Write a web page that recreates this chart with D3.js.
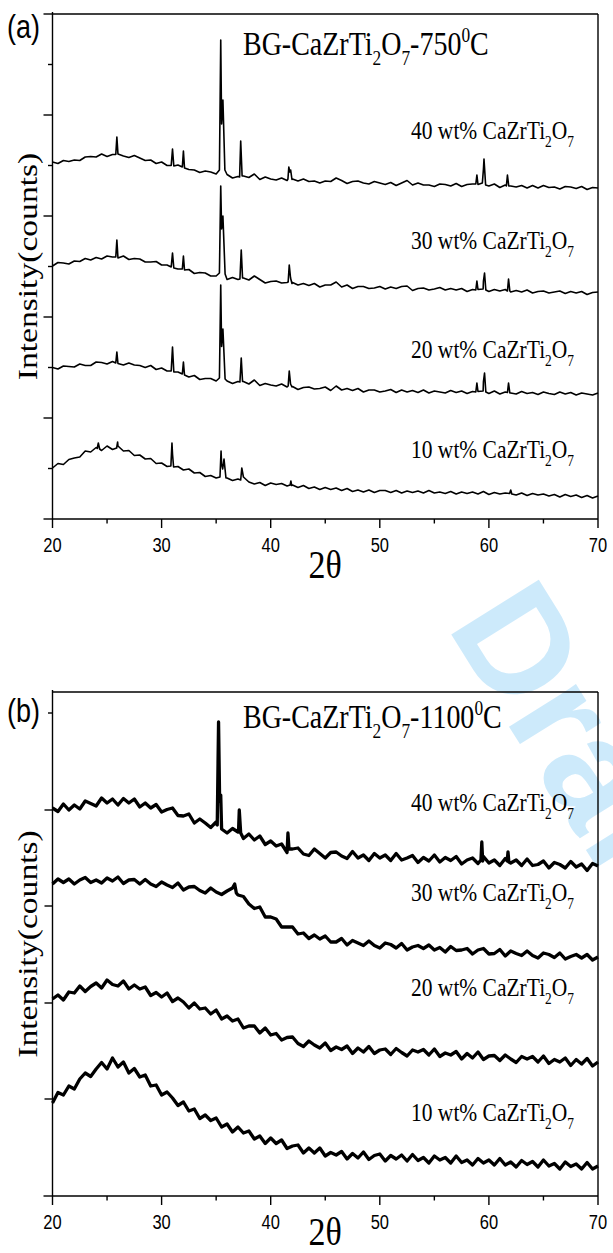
<!DOCTYPE html>
<html>
<head>
<meta charset="utf-8">
<script src="https://cdn.jsdelivr.net/npm/d3@7"></script>
<style>
  body { margin: 0; background: #fff; }
  svg { display: block; }
</style>
</head>
<body>
<svg id="chart"></svg>
<script>
// ---- data (2theta in degrees, intensity in counts) ----
const xTicks = [20, 30, 40, 50, 60, 70];
const xMinorTicks = [25, 35, 45, 55, 65];
const seriesLabels = ['10 wt% CaZrTi_2O_7', '20 wt% CaZrTi_2O_7', '30 wt% CaZrTi_2O_7', '40 wt% CaZrTi_2O_7'];
const panelTitles = ['BG-CaZrTi_2O_7-750^0C', 'BG-CaZrTi_2O_7-1100^0C'];
const panelTags = ['(a)', '(b)'];

// every scan is read every 0.5 deg from 20 to 70, the sharp peaks are listed apart
const scanStep = 0.5;

// panel (a) 750C
const a10 = [102,111,109,119,122,124,136,134,143,137,146,139,146,136,137,127,128,120,121,111,112,105,130,105,98,100,92,93,85,87,82,110,82,77,80,84,74,70,73,67,72,69,71,66,68,63,67,61,64,59,63,59,62,57,61,55,58,54,58,53,57,57,53,57,52,56,53,56,52,57,52,54,51,55,50,54,51,54,50,55,49,53,50,52,58,48,52,47,51,48,50,46,49,44,49,45,48,43,47,42,46];
const a20 = [303,300,306,305,304,310,307,307,314,313,310,315,311,308,312,308,307,303,307,299,302,296,344,294,314,284,287,279,281,281,276,345,276,271,275,275,270,278,267,271,268,266,270,264,265,259,263,264,260,261,264,257,266,258,261,257,261,254,258,258,254,256,259,253,258,254,257,253,258,252,256,254,252,257,253,256,251,255,255,275,251,256,250,254,252,250,255,251,253,249,254,251,249,254,250,253,248,252,250,248,252];
const a30 = [506,513,512,510,516,515,521,518,523,520,526,524,522,526,519,521,520,514,514,515,508,508,532,500,526,499,491,493,492,486,486,580,479,483,479,482,478,486,479,472,475,476,472,473,473,468,471,467,471,464,468,468,474,464,468,461,465,465,461,462,465,460,464,461,465,466,457,461,462,458,460,463,458,461,458,461,455,459,459,476,455,459,456,459,454,457,454,458,452,455,456,452,454,456,451,455,452,455,449,453,454];
const a40 = [714,711,717,715,718,717,724,725,724,730,725,729,730,726,723,727,722,717,718,711,714,707,740,708,736,699,698,693,696,694,690,790,689,682,685,686,683,690,679,684,680,678,682,677,680,676,680,675,676,672,676,675,682,677,671,675,676,672,670,675,672,669,673,667,672,677,668,672,668,668,665,670,669,666,671,665,669,670,669,700,666,670,663,668,666,664,667,662,667,662,667,663,664,660,665,664,661,665,659,663,662];
const peaksA10 = [[24.1,141],[24.2,152],[24.32,140],[25.88,142],[25.97,154],[30.85,106],[30.95,152],[31.1,104],[35.35,84],[35.45,136],[35.6,100],[35.72,120],[35.9,82],[37.25,78],[37.35,102],[41.78,68],[41.85,76],[41.92,67],[61.9,51],[62.1,50]];
const peaksA20 = [[25.8,312],[25.9,334],[30.88,296],[31.12,294],[31.9,290],[32.1,288],[35.3,282],[35.42,468],[35.62,380],[35.82,280],[37.18,274],[37.3,322],[37.42,275],[41.6,266],[41.7,296],[41.82,270],[41.95,264],[58.8,254],[58.9,272],[59.47,256],[59.6,292],[59.72,254],[61.7,253],[61.8,272],[61.92,252]];
const peaksA30 = [[25.8,524],[25.9,558],[30.88,504],[31.12,502],[31.9,500],[32.1,498],[35.3,492],[35.42,666],[35.62,606],[35.82,490],[37.18,480],[37.3,538],[37.42,482],[41.6,474],[41.7,508],[41.82,482],[41.95,471],[58.8,458],[58.9,476],[59.47,460],[59.6,492],[59.72,458],[61.7,456],[61.8,480],[61.92,456]];
const peaksA40 = [[25.8,729],[25.9,764],[30.88,707],[31.12,706],[31.9,704],[32.1,702],[35.3,698],[35.42,958],[35.62,838],[35.8,698],[37.15,684],[37.25,756],[37.38,686],[41.58,680],[41.66,704],[41.75,694],[41.83,698],[41.95,679],[58.8,670],[58.9,688],[59.4,672],[59.55,720],[59.7,668],[61.6,666],[61.7,688],[61.82,666]];

// panel (b) 1100C
const b10 = [186,207,202,220,214,234,246,239,254,267,254,276,258,268,246,255,238,242,220,222,202,208,196,181,188,170,174,155,162,151,156,138,144,128,138,126,130,114,120,105,116,105,112,95,100,102,86,96,86,96,80,87,82,89,74,85,76,88,73,81,84,70,81,74,82,70,83,71,77,66,80,72,77,66,80,67,72,62,75,66,72,62,75,62,68,58,71,63,69,58,72,60,65,54,68,59,64,54,67,54,60];
const b20 = [394,402,392,408,406,420,409,419,426,416,432,423,420,430,414,422,414,418,401,407,398,406,389,396,388,376,386,374,376,364,372,354,360,350,354,336,340,340,326,336,322,325,312,317,318,305,299,310,302,296,306,291,298,293,300,285,296,288,299,285,292,294,283,295,287,280,292,288,293,282,294,279,286,282,289,274,285,276,288,273,280,281,271,282,274,267,279,274,279,268,280,265,273,268,276,261,273,264,275,260,268];
const b30 = [624,634,627,634,624,632,637,627,632,626,636,630,638,625,632,633,624,633,624,619,628,622,617,626,612,618,619,611,606,616,608,603,610,616,602,599,584,575,578,558,558,554,538,538,538,524,526,515,522,514,520,508,508,515,502,511,506,501,510,501,496,506,503,496,505,492,498,501,495,502,492,497,488,499,491,492,495,484,492,495,484,485,493,480,490,485,481,490,481,476,486,483,477,486,474,479,483,476,483,472,478];
const b40 = [776,769,784,772,782,774,790,785,780,796,786,794,782,795,786,794,778,786,776,783,768,773,776,761,760,764,746,754,746,737,748,734,726,735,728,715,724,712,720,703,710,700,704,687,694,696,684,681,694,685,676,687,688,680,675,689,676,682,671,685,676,682,671,685,672,676,681,667,677,670,682,668,677,671,679,664,672,676,665,679,666,672,661,675,666,672,661,674,661,663,670,656,667,663,656,669,658,664,651,665,660];
const peaksB10 = [];
const peaksB20 = [];
const peaksB30 = [[36.7,624],[36.85,606]];
const peaksB40 = [[35.1,742],[35.22,948],[35.32,790],[35.42,802],[37.05,730],[37.12,772],[37.25,726],[41.58,726],[41.68,694],[59.27,672],[59.35,708],[59.43,670],[61.68,670],[61.75,688],[61.83,668]];

// label baselines, in counts on each panel's intensity axis
const labelLevelsA = [122, 322, 540, 760];
const labelLevelsB = [150, 400, 590, 770];

const yTicksA = d3.range(0, 1011, 101);
const yTicksB = [0, 194, 386, 580, 772, 966];

// ---- layout ----
const W = 613, H = 1253;
const SY = 1.2; // the source figure is stretched vertically
const left = 52.5, right = 598;
const serif = 'Liberation Serif, Times New Roman, serif';
const sans = 'Liberation Sans, Arial, sans-serif';

const svg = d3.select('#chart').attr('width', W).attr('height', H);
svg.append('rect').attr('width', W).attr('height', H).attr('fill', '#fff');

// light "Draft" watermark of the source page
svg.append('text')
  .attr('transform', 'translate(446,626) rotate(58)')
  .attr('font-family', sans)
  .attr('font-weight', 'bold')
  .attr('font-size', 150)
  .attr('fill', '#cdeafb')
  .text('Draft');

const x = d3.scaleLinear().domain([20, 70]).range([left, right]);

function scanPoints(vals, peaks) {
  return vals.map((v, i) => [20 + i * scanStep, v])
    .concat(peaks)
    .sort((p, q) => p[0] - q[0]);
}

// text with _sub and ^sup single characters
function richText(g, px, py, str, size, family, anchor) {
  const t = g.append('text')
    .attr('transform', `translate(${px},${py}) scale(1,${SY})`)
    .attr('font-family', family)
    .attr('font-size', size)
    .attr('text-anchor', anchor || 'start')
    .attr('fill', '#000');
  let shift = 0;
  for (let i = 0; i < str.length; i++) {
    const c = str[i];
    if ((c === '_' || c === '^') && i + 1 < str.length) {
      const want = c === '_' ? size * 0.3 : -size * 0.38;
      t.append('tspan').attr('dy', want - shift).attr('font-size', size * 0.62).text(str[i + 1]);
      shift = want;
      i++;
    } else {
      let j = i;
      while (j < str.length && str[j] !== '_' && str[j] !== '^') j++;
      t.append('tspan').attr('dy', -shift).text(str.slice(i, j));
      shift = 0;
      i = j - 1;
    }
  }
  return t;
}

function drawPanel(top, bottom, yMax, yTicks, series, labelLevels, cfg) {
  const y = d3.scaleLinear().domain([0, yMax]).range([bottom, top]);
  const g = svg.append('g');

  // traces
  const line = d3.line().x(d => x(d[0])).y(d => y(d[1]));
  series.forEach(s => {
    g.append('path').datum(s)
      .attr('fill', 'none')
      .attr('stroke', '#000')
      .attr('stroke-width', cfg.lineWidth)
      .attr('stroke-linejoin', 'round')
      .attr('d', line);
  });

  // frame
  const ln = (x1, y1, x2, y2) => g.append('line')
    .attr('x1', x1).attr('y1', y1).attr('x2', x2).attr('y2', y2)
    .attr('stroke', '#000').attr('stroke-width', 1.4);
  ln(left, top - 2, left, bottom);
  ln(left, bottom, right, bottom);
  ln(left, top, right, top);
  ln(right, top, right, bottom);

  // x ticks
  xTicks.forEach(v => ln(x(v), bottom, x(v), bottom + 9));
  xMinorTicks.forEach(v => ln(x(v), bottom, x(v), bottom + 4.5));
  xTicks.forEach(v => richText(g, x(v), bottom + 33, String(v), 16.5, sans, 'middle'));

  // y ticks
  yTicks.forEach((v, i) => ln(left - cfg.tickLen(i), y(v), left, y(v)));

  // titles and labels
  richText(g, 243, cfg.titleY, cfg.title, 28, serif);
  seriesLabels.forEach((s, i) => richText(g, 411, y(labelLevels[i]), s, 21.5, serif));
  richText(g, 7, cfg.tagY, cfg.tag, 27, sans);
  richText(g, (left + right) / 2, cfg.xLabelY, '2θ', 34, serif, 'middle');

  g.append('text')
    .attr('transform', `translate(37,${(top + bottom) / 2}) scale(1,${SY}) rotate(-90)`)
    .attr('font-family', serif)
    .attr('font-size', 28)
    .attr('text-anchor', 'middle')
    .text('Intensity(counts)');
}

drawPanel(14, 519, 1010, yTicksA,
  [scanPoints(a10, peaksA10), scanPoints(a20, peaksA20), scanPoints(a30, peaksA30), scanPoints(a40, peaksA40)],
  labelLevelsA, {
  lineWidth: 1.6,
  tickLen: i => (i % 2 === 0 ? 9 : 4.5),
  title: panelTitles[0], titleY: 55,
  tag: panelTags[0], tagY: 38,
  xLabelY: 578
});

drawPanel(692, 1196, 1008, yTicksB,
  [scanPoints(b10, peaksB10), scanPoints(b20, peaksB20), scanPoints(b30, peaksB30), scanPoints(b40, peaksB40)],
  labelLevelsB, {
  lineWidth: 3.3,
  tickLen: i => (i === 0 ? 9 : i === 5 ? 4.5 : 8),
  title: panelTitles[1], titleY: 728,
  tag: panelTags[1], tagY: 722,
  xLabelY: 1245
});
</script>
</body>
</html>
